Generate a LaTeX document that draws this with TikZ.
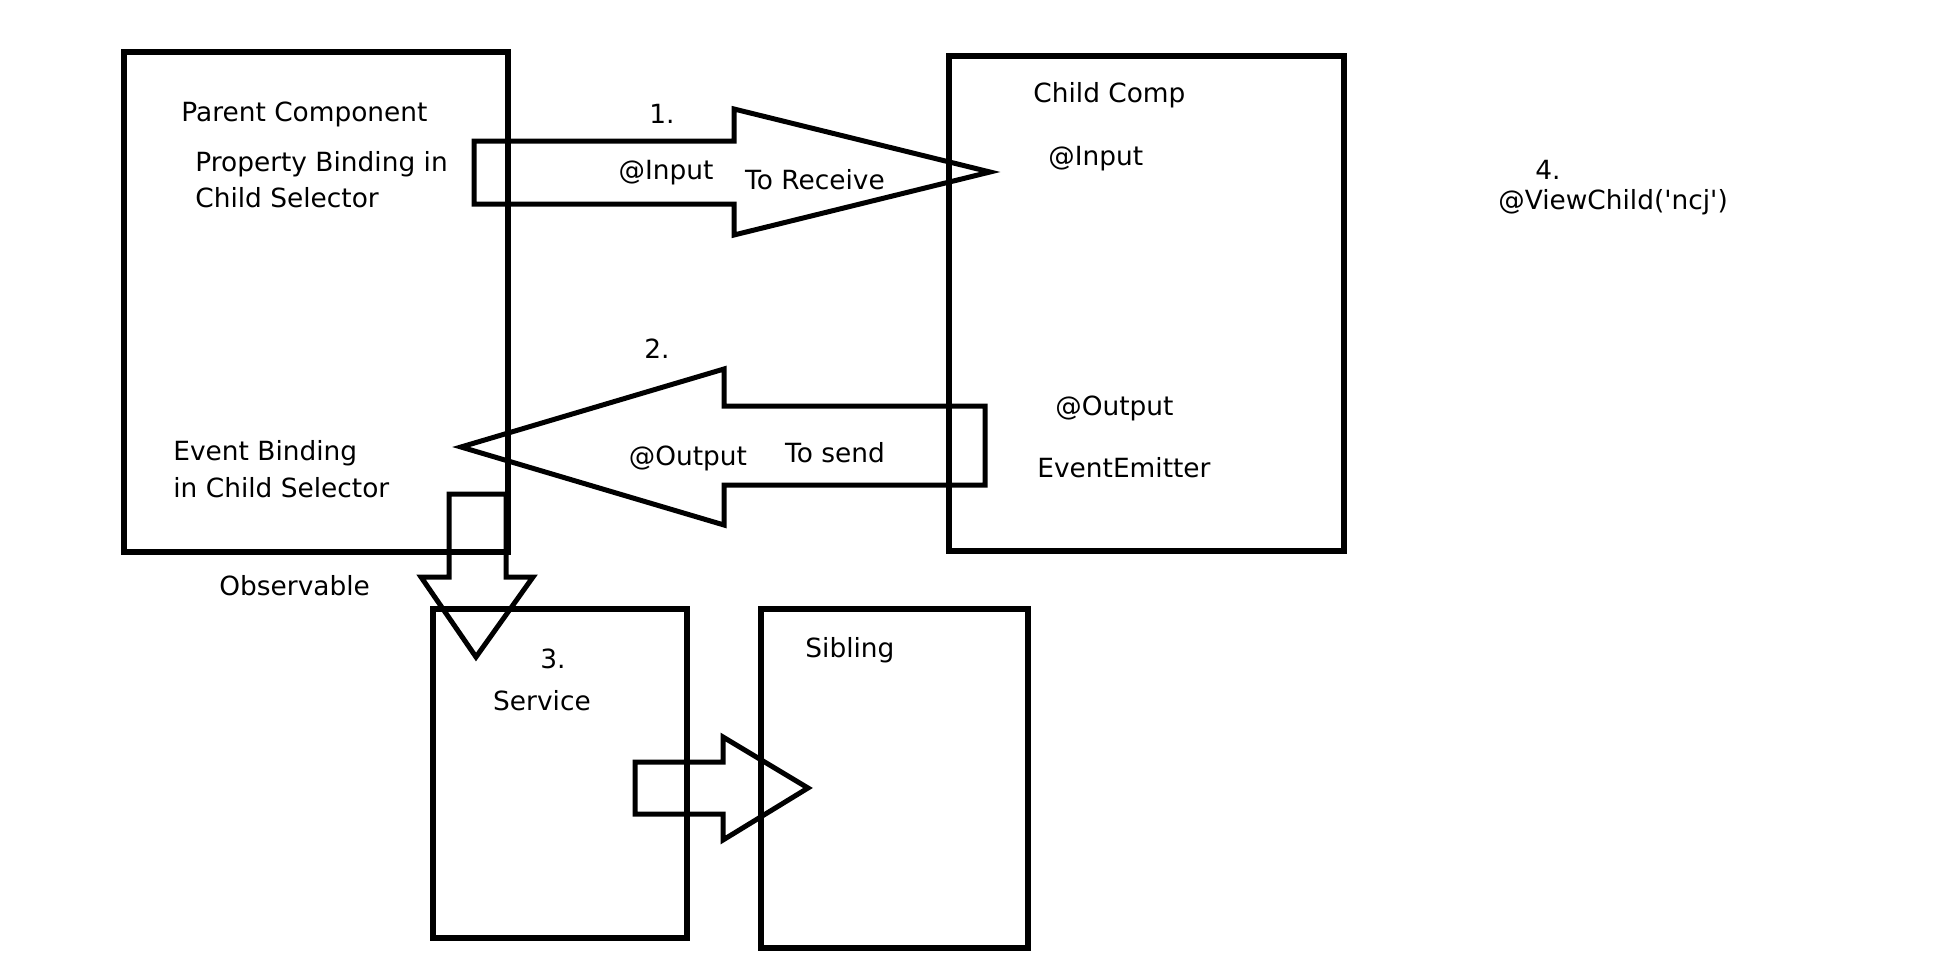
\documentclass[tikz,border=0pt]{standalone}
\usepackage{fontspec}
\setmainfont{DejaVu Sans}
\begin{document}
\begin{tikzpicture}[x=0.5pt,y=-0.5pt,
  box/.style={line width=2.6pt},
  blockarrow/.style={line width=2.5pt, line join=miter},
  lbl/.style={inner sep=0pt, yshift=-1.5pt, font=\fontsize{13.2pt}{15pt}\selectfont},
  lblw/.style={lbl, anchor=west}]
\useasboundingbox (0,0) rectangle (1940,958);

% component boxes
\draw[box] (124,52) rectangle (508,552);   % parent
\draw[box] (949,56) rectangle (1344,551);  % child
\draw[box] (433,609) rectangle (687,938);  % service
\draw[box] (761,609) rectangle (1028,948); % sibling

% 1. parent -> child (input)
\draw[blockarrow] (474,141) -- (734,141) -- (734,109) -- (990,172)
  -- (734,235) -- (734,204) -- (474,204) -- cycle;
% 2. child -> parent (output)
\draw[blockarrow] (985,406) -- (724,406) -- (724,369) -- (461,447)
  -- (724,525) -- (724,485) -- (985,485) -- cycle;
% 3. parent -> service (observable)
\draw[blockarrow] (449,494) -- (506,494) -- (506,577) -- (533,577)
  -- (476,657) -- (421,577) -- (449,577) -- cycle;
% service -> sibling
\draw[blockarrow] (635,762) -- (723,762) -- (723,737) -- (808,788)
  -- (723,840) -- (723,814) -- (635,814) -- cycle;

% parent texts
\node[lblw] (parent) at (181,111) {Parent Component};
\node[lblw] (pb1) at (195,161) {Property Binding in};
\node[lblw] (pb2) at (195,195) {Child Selector};
\node[lblw] (eb1) at (173,450) {Event Binding};
\node[lblw] (eb2) at (173,485) {in Child Selector};
\node[lblw] (obs) at (219,583) {Observable};

% arrow labels
\node[lbl] (n1) at (662,111) {1.};
\node[lbl] (in1) at (666,170) {@Input};
\node[lbl] (recv) at (815,177) {To Receive};
\node[lbl] (n2) at (657,346) {2.};
\node[lbl] (out1) at (688,455) {@Output};
\node[lbl] (send) at (835,450) {To send};

% child texts
\node[lblw] (child) at (1033,92) {Child Comp};
\node[lblw] (in2) at (1048,156) {@Input};
\node[lblw] (out2) at (1055,405) {@Output};
\node[lblw] (emit) at (1037,465) {EventEmitter};

% view child
\node[lbl] (n4) at (1548,167) {4.};
\node[lblw] (vc) at (1498,199) {@ViewChild(\textquotesingle ncj\textquotesingle)};

% service and sibling
\node[lbl] (n3) at (553,656) {3.};
\node[lbl] (svc) at (542,698) {Service};
\node[lblw] (sib) at (805,647) {Sibling};
\end{tikzpicture}
\end{document}
